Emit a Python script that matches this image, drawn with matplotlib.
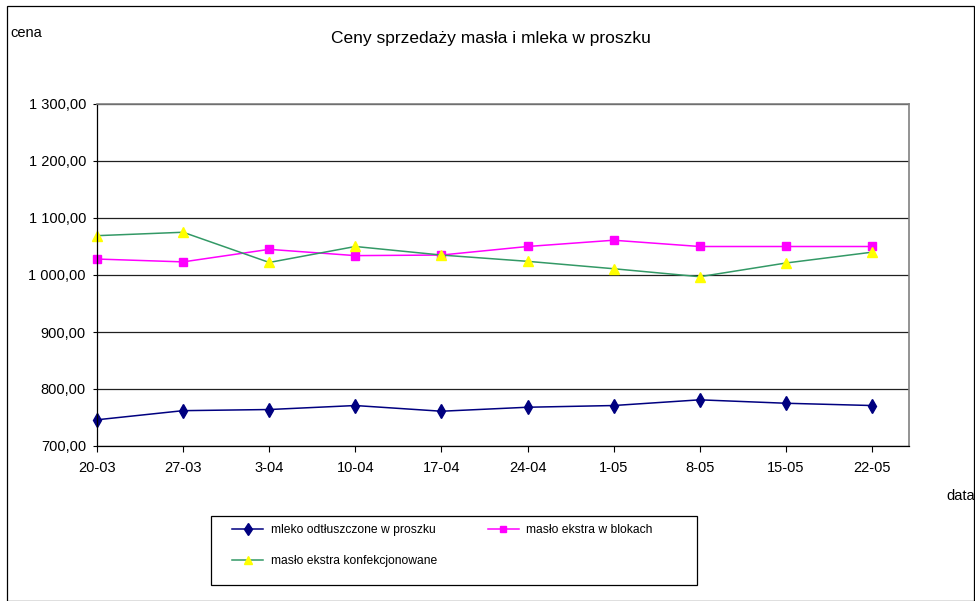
import matplotlib
matplotlib.use('Agg')
import matplotlib.pyplot as plt
from matplotlib.patches import Rectangle
from matplotlib.ticker import FuncFormatter

plt.rcParams['font.family'] = ['Liberation Sans', 'DejaVu Sans']

# dane
dates = ['20-03', '27-03', '3-04', '10-04', '17-04', '24-04', '1-05', '8-05', '15-05', '22-05']
mleko = [746, 762, 764, 771, 761, 768, 771, 781, 775, 771]
maslo_bloki = [1028, 1023, 1045, 1034, 1035, 1050, 1061, 1050, 1050, 1050]
maslo_konf = [1069, 1075, 1022, 1050, 1035, 1024, 1011, 997, 1021, 1040]
y_ticks = [700, 800, 900, 1000, 1100, 1200, 1300]

W, H = 975, 601


def pl_format(v, pos):
    s = f"{v:,.2f}"
    return s.replace(',', ' ').replace('.', ',')


fig = plt.figure(figsize=(W / 100, H / 100), dpi=100)
ax = fig.add_axes([97 / W, 1 - 446 / H, (909 - 97) / W, (446 - 104) / H])

x = list(range(len(dates)))
l1, = ax.plot(x, mleko, color='#000080', lw=1.1, marker='d', ms=7.5,
              mfc='#000080', mec='#000080', clip_on=False,
              label='mleko odtłuszczone w proszku')
l2, = ax.plot(x, maslo_bloki, color='#FF00FF', lw=1.1, marker='s', ms=5.5,
              mfc='#FF00FF', mec='#FF00FF', clip_on=False,
              label='masło ekstra w blokach')
l3, = ax.plot(x, maslo_konf, color='#339966', lw=1.1, marker='^', ms=7,
              mfc='#FFFF00', mec='#FFFF00', clip_on=False,
              label='masło ekstra konfekcjonowane')

ax.set_xlim(0, (909 - 97) / 86.1)
ax.set_ylim(700, 1300)
ax.set_xticks(x)
ax.set_xticklabels(dates)
ax.set_yticks(y_ticks)
ax.yaxis.set_major_formatter(FuncFormatter(pl_format))
ax.grid(axis='y', color='#202020', lw=0.9)
ax.set_axisbelow(True)

ax.tick_params(axis='x', direction='out', length=4, width=0.8, pad=7, labelsize=10.5)
ax.tick_params(axis='y', direction='out', length=3, width=0.8, pad=5, labelsize=10.5)
for side in ['left', 'bottom']:
    ax.spines[side].set_color('black')
    ax.spines[side].set_linewidth(0.9)
for side in ['right', 'top']:
    ax.spines[side].set_color('#808080')
    ax.spines[side].set_linewidth(1.2)

fig.text(491 / W, 1 - 38 / H, 'Ceny sprzedaży masła i mleka w proszku',
         ha='center', va='center', fontsize=12.5)
fig.text(10 / W, 1 - 33 / H, 'cena', ha='left', va='center', fontsize=10.5)
fig.text(946 / W, 1 - 496 / H, 'data', ha='left', va='center', fontsize=10.5)

# ramka legendy
fig.patches.append(Rectangle((211 / W, 1 - 585 / H), (697 - 211) / W, (585 - 516) / H,
                             transform=fig.transFigure, fill=False,
                             edgecolor='black', lw=0.9))
fig.legend([l1, l3, l2], [l1.get_label(), l3.get_label(), l2.get_label()],
           loc='upper left', bbox_to_anchor=(232 / W, 1 - 524 / H),
           ncol=2, frameon=False, fontsize=8.7, handlelength=2.6,
           handletextpad=0.6, columnspacing=4.2, labelspacing=1.6,
           borderpad=0, borderaxespad=0, markerscale=0.85)

# ramka calego wykresu
fig.patches.append(Rectangle((7 / W, 0), (974 - 7) / W, 1 - 6 / H,
                             transform=fig.transFigure, fill=False,
                             edgecolor='black', lw=0.9))

fig.savefig('out.png', dpi=100, facecolor='white')
